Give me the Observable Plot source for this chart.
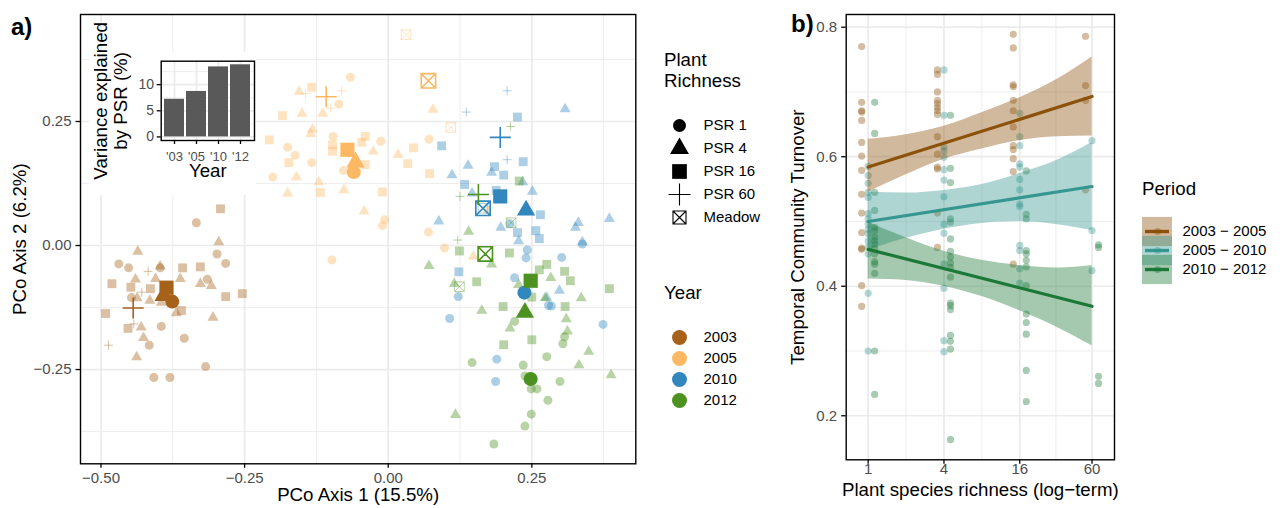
<!DOCTYPE html>
<html>
<head>
<meta charset="utf-8">
<script src="https://cdn.jsdelivr.net/npm/d3@7"></script>
<script src="https://cdn.jsdelivr.net/npm/@observablehq/plot@0.6"></script>
<style>
  body { margin: 0; background: #fff; }
  #root { position: relative; width: 1280px; height: 508px; overflow: hidden; background: #fff;
          font-family: "Liberation Sans", Arial, sans-serif; color: #000; }
  .lbl { position: absolute; line-height: 1; transform: translateY(-50%); white-space: nowrap; }
</style>
</head>
<body>
<div id="root"></div>
<script>
// ---------------- DATA ----------------
// Panel a: PCoA scores per plot, [richness, PCo1, PCo2]
const psrKeys = ["1", "4", "16", "60", "M"];
const psrLabels = ["PSR 1", "PSR 4", "PSR 16", "PSR 60", "Meadow"];
const years = [2003, 2005, 2010, 2012];

const plots2003 = [
  ["16",-0.292,0.074],["1",-0.334,0.046],["4",-0.295,0.007],["1",-0.298,-0.017],["1",-0.283,-0.036],
  ["4",-0.436,-0.012],["1",-0.469,-0.037],["1",-0.452,-0.045],["60",-0.418,-0.052],["4",-0.397,-0.042],
  ["1",-0.397,-0.045],["16",-0.358,-0.045],["16",-0.327,-0.043],["1",-0.315,-0.068],["4",-0.362,-0.067],
  ["4",-0.327,-0.077],["4",-0.308,-0.081],["16",-0.254,-0.097],["16",-0.283,-0.103],["16",-0.481,-0.077],
  ["4",-0.440,-0.068],["16",-0.448,-0.084],["4",-0.405,-0.067],["16",-0.414,-0.087],["60",-0.429,-0.094],
  ["1",-0.447,-0.105],["4",-0.437,-0.106],["4",-0.415,-0.111],["4",-0.395,-0.115],["16",-0.360,-0.131],
  ["4",-0.369,-0.136],["16",-0.492,-0.137],["4",-0.305,-0.145],["60",-0.443,-0.158],["16",-0.453,-0.167],
  ["4",-0.430,-0.165],["1",-0.395,-0.163],["4",-0.426,-0.186],["1",-0.355,-0.187],["1",-0.416,-0.201],
  ["60",-0.487,-0.201],["4",-0.438,-0.225],["1",-0.318,-0.244],["1",-0.408,-0.266],["1",-0.380,-0.266]
];
const plots2005 = [
  ["1",-0.066,0.339],["4",-0.155,0.310],["16",-0.133,0.319],["60",-0.144,0.306],["60",-0.081,0.312],
  ["1",-0.086,0.285],["60",-0.100,0.277],["16",-0.184,0.262],["4",-0.150,0.266],["4",-0.114,0.266],
  ["4",-0.132,0.234],["4",-0.135,0.225],["1",-0.096,0.220],["16",-0.207,0.213],["1",-0.175,0.198],
  ["1",-0.162,0.182],["16",-0.173,0.167],["1",-0.133,0.167],["16",-0.097,0.203],["16",-0.097,0.190],
  ["1",-0.078,0.151],["16",-0.046,0.208],["16",-0.040,0.220],["4",-0.026,0.190],["16",-0.040,0.163],
  ["1",-0.201,0.138],["4",-0.160,0.138],["4",-0.121,0.128],["4",-0.175,0.105],["16",-0.118,0.107],
  ["4",-0.077,0.112],["4",-0.042,0.069],["M",0.031,0.425],["4",0.078,0.274],["M",0.109,0.238],
  ["1",-0.013,0.210],["4",0.017,0.183],["16",0.044,0.197],["1",0.071,0.214],["16",0.034,0.165],
  ["16",0.072,0.145],["16",-0.010,0.108],["1",-0.006,0.052],["1",-0.010,0.040],["1",0.070,0.027],
  ["1",0.098,-0.005],["4",0.148,-0.022],["1",0.172,0.072],["1",-0.098,-0.029]
];
const plots2010 = [
  ["60",0.207,0.312],["60",0.136,0.269],["4",0.308,0.275],["16",0.225,0.259],["16",0.093,0.201],
  ["60",0.207,0.173],["16",0.235,0.169],["4",0.139,0.161],["16",0.185,0.159],["4",0.180,0.147],
  ["16",0.201,0.142],["4",0.111,0.142],["16",0.133,0.123],["4",0.146,0.105],["16",0.188,0.111],
  ["4",0.234,0.128],["4",0.251,0.109],["16",0.265,0.062],["4",0.088,0.049],["4",0.196,0.036],
  ["1",0.212,0.044],["4",0.331,0.046],["4",0.326,0.036],["4",0.385,0.054],["16",0.225,0.026],
  ["16",0.257,0.030],["16",0.263,0.014],["4",0.227,0.009],["4",0.338,0.007],["1",0.338,0.003],
  ["1",0.242,-0.009],["1",0.240,-0.025],["1",0.302,-0.024],["16",0.123,-0.053],["1",0.220,-0.065],
  ["4",0.298,-0.091],["1",0.122,-0.103],["1",0.279,-0.121],["1",0.284,-0.122],["4",0.276,-0.105],
  ["1",0.107,-0.147],["1",0.374,-0.159],["1",0.189,-0.229],["1",0.187,-0.274],["M",0.165,0.075]
];
const plots2012 = [
  ["60",0.213,0.240],["60",0.125,0.099],["16",0.228,0.130],["4",0.140,0.028],["60",0.121,0.011],
  ["16",0.124,-0.011],["16",0.211,-0.015],["M",0.214,0.046],["4",0.071,-0.041],["4",0.180,-0.038],
  ["16",0.276,-0.038],["16",0.263,-0.049],["16",0.307,-0.052],["4",0.283,-0.065],["16",0.317,-0.071],
  ["4",0.115,-0.077],["M",0.124,-0.083],["16",0.154,-0.073],["4",0.227,-0.079],["16",0.250,-0.104],
  ["4",0.273,-0.106],["4",0.336,-0.106],["16",0.385,-0.087],["4",0.163,-0.131],["16",0.200,-0.123],
  ["16",0.308,-0.123],["4",0.310,-0.148],["1",0.220,-0.153],["4",0.212,-0.167],["4",0.312,-0.173],
  ["1",0.307,-0.184],["1",0.304,-0.198],["16",0.201,-0.200],["16",0.250,-0.190],["4",0.349,-0.214],
  ["1",0.276,-0.224],["1",0.146,-0.236],["1",0.235,-0.241],["4",0.332,-0.241],["1",0.238,-0.263],
  ["4",0.388,-0.261],["1",0.299,-0.274],["1",0.249,-0.289],["1",0.259,-0.289],["1",0.278,-0.312],
  ["4",0.117,-0.341],["1",0.249,-0.340],["1",0.238,-0.364],["1",0.184,-0.400]
];
// Group centroids: [year, richness, PCo1, PCo2]
const centroids = [
  [2003,"1",-0.376,-0.113],[2003,"4",-0.391,-0.101],[2003,"16",-0.386,-0.085],[2003,"60",-0.444,-0.126],
  [2005,"1",-0.060,0.148],[2005,"4",-0.057,0.168],[2005,"16",-0.071,0.193],[2005,"60",-0.108,0.300],[2005,"M",0.070,0.332],
  [2010,"1",0.237,-0.095],[2010,"4",0.240,0.071],[2010,"16",0.195,0.099],[2010,"60",0.195,0.218],[2010,"M",0.165,0.075],
  [2012,"1",0.248,-0.269],[2012,"4",0.238,-0.135],[2012,"16",0.248,-0.071],[2012,"60",0.157,0.103],[2012,"M",0.169,-0.017]
];
const xTicksA = [-0.50, -0.25, 0.00, 0.25];
const yTicksA = [-0.25, 0.00, 0.25];
const xMinorA = [-0.375, -0.125, 0.125, 0.375];
const yMinorA = [-0.375, -0.125, 0.125, 0.375];

// Inset: variance explained by PSR (%)
const insetYears = ["'03", "'05", "'10", "'12"];
const insetValues = [7.2, 8.7, 13.4, 13.8];
const insetTicks = [0, 5, 10];
const insetMinor = [2.5, 7.5, 12.5];

// Panel b: temporal turnover, [PSR, turnover]
const periods = ["2003 − 2005", "2005 − 2010", "2010 − 2012"];
const turnover0305 = [
  [1,0.770],[1,0.684],[1,0.671],[1,0.669],[1,0.656],[1,0.622],[1,0.601],[1,0.579],[1,0.542],[1,0.513],[1,0.483],[1,0.459],[1,0.457],[1,0.401],[1,0.369],
  [4,0.734],[4,0.727],[4,0.700],[4,0.687],[4,0.682],[4,0.676],[4,0.671],[4,0.665],[4,0.631],[4,0.604],[4,0.584],[4,0.581],[4,0.513],[4,0.460],
  [16,0.789],[16,0.768],[16,0.711],[16,0.708],[16,0.687],[16,0.671],[16,0.646],[16,0.617],[16,0.611],[16,0.597],[16,0.577],[16,0.434],
  [60,0.786],[60,0.710],[60,0.687],[60,0.549]
];
const turnover0510 = [
  [1,0.585],[1,0.571],[1,0.559],[1,0.545],[1,0.537],[1,0.512],[1,0.504],[1,0.496],[1,0.488],[1,0.481],[1,0.470],[1,0.460],[1,0.450],[1,0.389],[1,0.300],
  [4,0.734],[4,0.664],[4,0.615],[4,0.609],[4,0.599],[4,0.580],[4,0.564],[4,0.538],[4,0.496],[4,0.482],[4,0.434],[4,0.397],[4,0.316],[4,0.299],
  [16,0.667],[16,0.631],[16,0.617],[16,0.589],[16,0.584],[16,0.565],[16,0.549],[16,0.527],[16,0.523],[16,0.463],[16,0.455],[16,0.427],[16,0.405],
  [60,0.625],[60,0.486],[60,0.424]
];
const turnover1012 = [
  [1,0.684],[1,0.636],[1,0.545],[1,0.517],[1,0.491],[1,0.486],[1,0.476],[1,0.470],[1,0.465],[1,0.458],[1,0.450],[1,0.438],[1,0.434],[1,0.420],[1,0.300],[1,0.233],
  [4,0.664],[4,0.582],[4,0.560],[4,0.504],[4,0.499],[4,0.473],[4,0.454],[4,0.445],[4,0.436],[4,0.429],[4,0.414],[4,0.374],[4,0.370],[4,0.364],[4,0.324],[4,0.315],[4,0.303],[4,0.163],
  [16,0.578],[16,0.511],[16,0.504],[16,0.455],[16,0.450],[16,0.440],[16,0.430],[16,0.401],[16,0.357],[16,0.344],[16,0.326],[16,0.270],[16,0.222],
  [60,0.464],[60,0.460],[60,0.261],[60,0.250]
];
// fitted lines (at PSR 1 and 60) and confidence band edges
const fitX = [1, 60];
const fit0305 = [0.584, 0.693];
const fit0510 = [0.500, 0.554];
const fit1012 = [0.457, 0.369];
const bandX = [1, 2, 4, 8, 16, 32, 60];
const band0305Lo = [0.545, 0.572, 0.596, 0.612, 0.625, 0.631, 0.632];
const band0305Hi = [0.627, 0.634, 0.647, 0.668, 0.691, 0.720, 0.754];
const band0510Lo = [0.455, 0.474, 0.488, 0.497, 0.500, 0.495, 0.486];
const band0510Hi = [0.545, 0.544, 0.548, 0.557, 0.574, 0.595, 0.622];
const band1012Lo = [0.411, 0.409, 0.400, 0.384, 0.362, 0.336, 0.308];
const band1012Hi = [0.499, 0.475, 0.454, 0.440, 0.432, 0.428, 0.432];
const xTicksB = [1, 4, 16, 60];
const xMinorB = [2, 8, 31];
const yTicksB = [0.2, 0.4, 0.6, 0.8];
const yMinorB = [0.3, 0.5, 0.7];

// ---------------- STYLE ----------------
const FONT = '"Liberation Sans", Arial, Helvetica, sans-serif';
const yearColor = {2003: "#a6611a", 2005: "#fdb863", 2010: "#3288bd", 2012: "#4d9221"};
const periodColor = ["#8c510a", "#35978f", "#1b7837"];
const GRID = "#ebebeb";
const TICKTXT = "#4d4d4d";
const TITLE_FS = 18.7;
const TICK_FS = 15;
const INSET_TICK_FS = 13;
const LEG_FS = 15;
const baseStyle = {fontFamily: FONT, fontSize: "15px", background: "transparent", overflow: "visible", color: "#000"};

const plusSym = {draw(ctx, size) { const r = Math.sqrt(size / Math.PI);
  ctx.moveTo(-r, 0); ctx.lineTo(r, 0); ctx.moveTo(0, -r); ctx.lineTo(0, r); }};
const meadowSym = {draw(ctx, size) { const r = Math.sqrt(size / Math.PI);
  ctx.moveTo(-r, -r); ctx.lineTo(r, -r); ctx.lineTo(r, r); ctx.lineTo(-r, r); ctx.closePath();
  ctx.moveTo(-r, -r); ctx.lineTo(r, r); ctx.moveTo(r, -r); ctx.lineTo(-r, r); }};

const SMALL = {c: 4.5, t: 4.1, s: 5.0, p: 4.5, m: 4.8, sw: 1};
const BIG = {c: 7, t: 6.8, s: 8.0, p: 10.5, m: 7.2, sw: 1.6};
const LEG = {c: 6.5, t: 7.0, s: 8.3, p: 11, m: 6.5, sw: 1.1};

function shapeLayer(data, color, sz, op, xf, yf, extra = {}) {
  const pick = k => data.filter(d => d[0] === k);
  const pos = {x: xf, y: yf, ...extra};
  return [
    Plot.dot(pick("1"), {...pos, symbol: "circle", r: sz.c, fill: color, fillOpacity: op}),
    Plot.dot(pick("4"), {...pos, symbol: "triangle", r: sz.t, fill: color, fillOpacity: op}),
    Plot.dot(pick("16"), {...pos, symbol: "square", r: sz.s, fill: color, fillOpacity: op}),
    Plot.dot(pick("60"), {...pos, symbol: plusSym, r: sz.p, fill: "none", stroke: color, strokeOpacity: op, strokeWidth: sz.sw}),
    Plot.dot(pick("M"), {...pos, symbol: meadowSym, r: sz.m, fill: "none", stroke: color, strokeOpacity: op, strokeWidth: sz.sw})
  ];
}

const root = document.getElementById("root");
function place(node, left, top) {
  node.style.position = "absolute"; node.style.left = left + "px"; node.style.top = top + "px";
  root.appendChild(node); return node;
}
function label(text, left, cy, size, weight = "normal", color = "#000") {
  const d = document.createElement("div");
  d.className = "lbl"; d.textContent = text;
  d.style.left = left + "px"; d.style.top = cy + "px";
  d.style.fontSize = size + "px"; d.style.fontWeight = weight; d.style.color = color;
  root.appendChild(d); return d;
}
const grid = (k, ticks, w) => (k === "x" ? Plot.gridX : Plot.gridY)(ticks, {stroke: GRID, strokeOpacity: 1, strokeWidth: w});

// ---------------- PANEL A ----------------
const fmt2 = d3.format(".2f");
const plotsByYear = {2003: plots2003, 2005: plots2005, 2010: plots2010, 2012: plots2012};
const smallMarks = years.flatMap(y => shapeLayer(plotsByYear[y], yearColor[y], SMALL, 0.4, d => d[1], d => d[2]));
const centroidMarks = years.flatMap(y => shapeLayer(
  centroids.filter(c => c[0] === y).map(c => [c[1], c[2], c[3]]), yearColor[y], BIG, 1, d => d[1], d => d[2]));

const panelA = Plot.plot({
  width: 640, height: 508,
  marginLeft: 80, marginRight: 4.7, marginTop: 14, marginBottom: 44.7,
  x: {domain: [-0.5357, 0.431]},
  y: {domain: [-0.440, 0.4657]},
  style: baseStyle,
  marks: [
    grid("x", xMinorA, 0.9), grid("y", yMinorA, 0.9),
    grid("x", xTicksA, 1.7), grid("y", yTicksA, 1.7),
    Plot.axisX(xTicksA, {tickSize: 4.5, tickPadding: 4, tickFormat: fmt2, stroke: "#000", strokeWidth: 1.3, fill: TICKTXT, fontSize: TICK_FS, label: null}),
    Plot.axisY(yTicksA, {tickSize: 4.5, tickPadding: 4.5, tickFormat: fmt2, stroke: "#000", strokeWidth: 1.3, fill: TICKTXT, fontSize: TICK_FS, label: null}),
    ...smallMarks,
    ...centroidMarks,
    Plot.frame({stroke: "#000", strokeWidth: 1.4}),
    Plot.text(["PCo Axis 1 (15.5%)"], {frameAnchor: "bottom", textAnchor: "middle", dy: 37, fontSize: TITLE_FS, fill: "#000"}),
    Plot.text(["PCo Axis 2 (6.2%)"], {frameAnchor: "left", textAnchor: "middle", dx: -60, rotate: -90, fontSize: TITLE_FS, fill: "#000"})
  ]
});
place(panelA, 0, 0);

// inset background (viewport)
const insetBg = document.createElement("div");
insetBg.style.cssText = "position:absolute;left:89px;top:52px;width:167px;height:143px;background:#fff;";
root.appendChild(insetBg);

const inset = Plot.plot({
  width: 170, height: 182,
  marginLeft: 72.7, marginRight: 4, marginTop: 42.7, marginBottom: 60,
  x: {type: "band", domain: insetYears, paddingInner: 0.1, paddingOuter: 0.15},
  y: {domain: [-0.69, 14.49]},
  style: baseStyle,
  marks: [
    grid("y", insetMinor, 0.9),
    grid("y", insetTicks, 1.7),
    grid("x", insetYears, 1.7),
    Plot.barY(insetYears.map((k, i) => ({k, v: insetValues[i]})), {x: "k", y: "v", fill: "#595959"}),
    Plot.axisX({tickSize: 4, tickPadding: 7.5, stroke: "#000", strokeWidth: 1.3, fill: TICKTXT, fontSize: INSET_TICK_FS, label: null}),
    Plot.axisY(insetTicks, {tickSize: 4, tickPadding: 3.2, stroke: "#000", strokeWidth: 1.3, fill: TICKTXT, fontSize: 14, label: null}),
    Plot.frame({stroke: "#000", strokeWidth: 1.4}),
    Plot.text(["Year"], {frameAnchor: "bottom", textAnchor: "middle", dy: 36.5, fontSize: TITLE_FS, fill: "#000"}),
    Plot.text(["Variance explained\nby PSR (%)"], {frameAnchor: "left", textAnchor: "middle", dx: -50.7, rotate: -90, fontSize: TITLE_FS, lineHeight: 1.07, fill: "#000"})
  ]
});
place(inset, 88, 18);

// Legend: Plant Richness
const legShapes = Plot.plot({
  width: 125, height: 150, margin: 0,
  x: {domain: [0, 1], range: [0, 125], axis: null},
  y: {type: "point", domain: psrKeys, range: [16.7, 135], axis: null},
  style: baseStyle,
  marks: [
    ...shapeLayer(psrKeys.map(k => [k]), "#000", LEG, 1, () => 0, d => d[0], {dx: 24}),
    Plot.text(psrKeys, {x: () => 0, y: d => d, text: (d, i) => psrLabels[i], dx: 48, textAnchor: "start", fontSize: LEG_FS, fill: "#000"})
  ]
});
place(legShapes, 655, 95);

// Legend: Year
const legYears = Plot.plot({
  width: 125, height: 120, margin: 0,
  x: {domain: [0, 1], range: [0, 125], axis: null},
  y: {type: "point", domain: years, range: [15, 101.7], axis: null},
  style: baseStyle,
  marks: [
    Plot.dot(years, {x: () => 0, y: d => d, dx: 24, r: 7.5, fill: d => yearColor[d]}),
    Plot.text(years, {x: () => 0, y: d => d, text: d => String(d), dx: 48, textAnchor: "start", fontSize: LEG_FS, fill: "#000"})
  ]
});
place(legYears, 655, 310);

label("a)", 11, 27, 24, "bold");
label("Plant", 664, 59.5, TITLE_FS);
label("Richness", 664, 80.5, TITLE_FS);
label("Year", 664, 293, TITLE_FS);

// ---------------- PANEL B ----------------
const turnovers = [turnover0305, turnover0510, turnover1012];
const fits = [fit0305, fit0510, fit1012];
const bands = [[band0305Lo, band0305Hi], [band0510Lo, band0510Hi], [band1012Lo, band1012Hi]];
const dodge = [-6.5, 0, 6.5];

const panelB = Plot.plot({
  width: 370, height: 508,
  marginLeft: 85.7, marginRight: 16, marginTop: 14, marginBottom: 48.7,
  x: {type: "log", domain: [0.669, 90.5]},
  y: {domain: [0.132, 0.8196]},
  style: baseStyle,
  marks: [
    grid("x", xMinorB, 0.9), grid("y", yMinorB, 0.9),
    grid("x", xTicksB, 1.7), grid("y", yTicksB, 1.7),
    Plot.axisX(xTicksB, {tickSize: 4.5, stroke: "#000", strokeWidth: 1.3, fill: "none", label: null}),
    Plot.text(xTicksB, {x: d => d, frameAnchor: "bottom", textAnchor: "middle", dy: 14, text: d => String(d), fill: TICKTXT, fontSize: TICK_FS}),
    Plot.axisY(yTicksB, {tickSize: 4.5, tickPadding: 4.5, tickFormat: d3.format(".1f"), stroke: "#000", strokeWidth: 1.3, fill: TICKTXT, fontSize: TICK_FS, label: null}),
    ...turnovers.map((t, i) => Plot.dot(t, {x: d => d[0], y: d => d[1], dx: dodge[i], r: 3.6, fill: periodColor[i], fillOpacity: 0.38})),
    ...bands.flatMap(([lo, hi], i) => [
      Plot.areaY(bandX.map((x, j) => ({x, lo: lo[j], hi: hi[j]})), {x: "x", y1: "lo", y2: "hi", fill: periodColor[i], fillOpacity: 0.4, curve: "monotone-x"}),
      Plot.line(fitX.map((x, j) => ({x, y: fits[i][j]})), {x: "x", y: "y", stroke: periodColor[i], strokeWidth: 3.2})
    ]),
    Plot.frame({stroke: "#000", strokeWidth: 1.4}),
    Plot.text(["Plant species richness (log−term)"], {frameAnchor: "bottom", textAnchor: "middle", dy: 36.5, fontSize: TITLE_FS, fill: "#000"}),
    Plot.text(["Temporal Community Turnover"], {frameAnchor: "left", textAnchor: "middle", dx: -48.2, rotate: -90, fontSize: TITLE_FS, fill: "#000"})
  ]
});
place(panelB, 760, 0);

// Legend: Period
const legPeriod = Plot.plot({
  width: 138, height: 90, margin: 0,
  x: {domain: [0, 1], range: [0, 30], axis: null},
  y: {type: "point", domain: periods, range: [16, 74.5], axis: null},
  style: baseStyle,
  marks: [
    Plot.ruleY(periods, {y: d => d, x1: 0, x2: 1, stroke: (d, i) => periodColor[i], strokeOpacity: 0.4, strokeWidth: 29.2}),
    Plot.ruleY(periods, {y: d => d, x1: 0.1, x2: 0.9, stroke: (d, i) => periodColor[i], strokeWidth: 3.4}),
    Plot.dot(periods, {x: () => 0.5, y: d => d, r: 3.6, fill: (d, i) => periodColor[i], fillOpacity: 0.38}),
    Plot.text(periods, {x: () => 1, y: d => d, dx: 10, textAnchor: "start", fontSize: LEG_FS, fill: "#000"})
  ]
});
place(legPeriod, 1142, 205);

label("b)", 791, 24, 24, "bold");
label("Period", 1142, 188.5, TITLE_FS);
</script>
</body>
</html>
